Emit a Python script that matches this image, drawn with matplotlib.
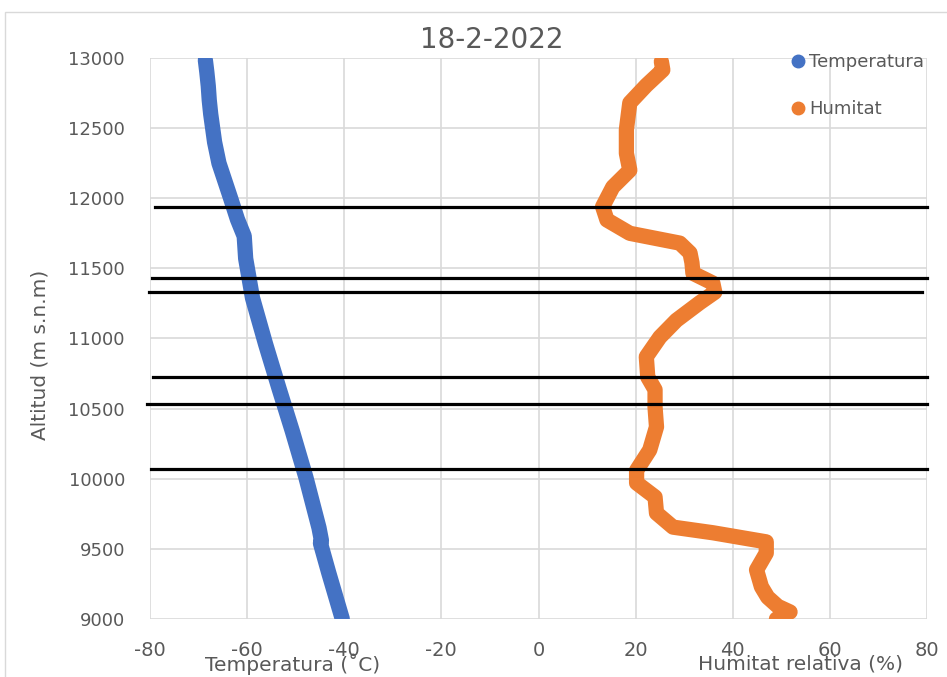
import matplotlib.pyplot as plt
from matplotlib.lines import Line2D
from matplotlib.patches import Rectangle

plt.rcParams["axes.unicode_minus"] = False

# Temperatura: altitud (m) i valor (°C)
temp_alt = [12985, 12900, 12800, 12700, 12600, 12400, 12250, 12000, 11850,
            11730, 11570, 11290, 10960, 10640, 10340, 10010, 9650, 9560, 9540, 9330, 9000]
temp_val = [-68.6, -68.3, -68.0, -67.8, -67.5, -66.7, -65.8, -63.4, -62.0,
            -60.6, -60.3, -58.9, -56.2, -53.4, -50.7, -47.9, -45.2, -44.7, -44.9, -43.2, -40.4]

# Humitat relativa: altitud (m) i valor (%)
hum_alt = [12975, 12915, 12805, 12680, 12490, 12320, 12200, 12080, 11940, 11845,
           11750, 11680, 11610, 11540, 11465, 11395, 11330, 11255, 11130, 11010,
           10870, 10725, 10635, 10510, 10370, 10205, 10060, 9970, 9870, 9755,
           9655, 9615, 9550, 9470, 9350, 9230, 9155, 9090, 9050, 9000]
hum_val = [25.3, 25.6, 22.2, 18.8, 18.1, 18.1, 18.8, 15.3, 13.2, 14.1,
           18.8, 29.1, 31.2, 31.6, 31.8, 35.9, 36.3, 33.2, 28.4, 25.0,
           22.2, 22.5, 24.0, 24.0, 24.3, 22.9, 20.2, 20.2, 24.0, 24.3,
           27.7, 35.9, 46.9, 46.9, 44.9, 45.9, 47.2, 49.3, 51.8, 49.0]

# nivells marcats amb línies negres
cut_levels = [11940, 11430, 11330, 10725, 10535, 10070]
cut_start = [-79.0, -79.6, -80.2, -79.4, -80.7, -79.8]
cut_end = [80.0, 80.0, 79.0, 80.0, 80.0, 80.0]

x_ticks = list(range(-80, 81, 20))
y_ticks = list(range(9000, 13001, 500))

grey = "#595959"
blue = "#4472C4"
orange = "#ED7D31"

fig = plt.figure(figsize=(9.47, 6.77), dpi=100)
fig.patches.append(Rectangle((5 / 947, -0.01), 1.0, 1 - 12 / 677 + 0.01,
                             transform=fig.transFigure, fill=False,
                             edgecolor="#d9d9d9", linewidth=1))

ax = fig.add_axes([150 / 947, 58 / 677, 777 / 947, 561 / 677])
ax.set_xlim(-80, 80)
ax.set_ylim(9000, 13000)
ax.set_xticks(x_ticks)
ax.set_yticks(y_ticks)
ax.grid(True, color="#d9d9d9", linewidth=1.2)
ax.set_axisbelow(True)
for s in ax.spines.values():
    s.set_visible(False)
ax.tick_params(length=0, colors=grey, labelsize=13)
ax.tick_params(axis="x", pad=16, labelsize=14)
ax.tick_params(axis="y", pad=18)

ax.plot(temp_val, temp_alt, color=blue, linewidth=11,
        solid_capstyle="round", solid_joinstyle="round", zorder=3)
ax.plot(hum_val, hum_alt, color=orange, linewidth=11,
        solid_capstyle="round", solid_joinstyle="round", zorder=3)

for lev, x0, x1 in zip(cut_levels, cut_start, cut_end):
    ax.plot([x0, x1], [lev, lev], color="black", linewidth=2.3, zorder=4, clip_on=False)

fig.text(492 / 947, 1 - 40 / 677, "18-2-2022", ha="center", va="center",
         fontsize=20, color=grey)
fig.text(40 / 947, 1 - 355 / 677, "Altitud (m s.n.m)", rotation=90,
         ha="center", va="center", fontsize=14.5, color=grey)
fig.text(293 / 947, 1 - 664 / 677, "Temperatura (˚C)", ha="center", va="center",
         fontsize=14.5, color=grey)
fig.text(800 / 947, 1 - 664 / 677, "Humitat relativa (%)", ha="center", va="center",
         fontsize=14.5, color=grey)

handles = [Line2D([], [], marker="o", linestyle="none", color=blue, markersize=9),
           Line2D([], [], marker="o", linestyle="none", color=orange, markersize=9)]
fig.legend(handles, ["Temperatura", "Humitat"], loc="upper left",
           bbox_to_anchor=(780 / 947, 1 - 44 / 677), frameon=False,
           fontsize=13, labelcolor=grey, labelspacing=1.6,
           handletextpad=0.1, handlelength=1.0, borderpad=0)

fig.savefig("out.png", dpi=100)
